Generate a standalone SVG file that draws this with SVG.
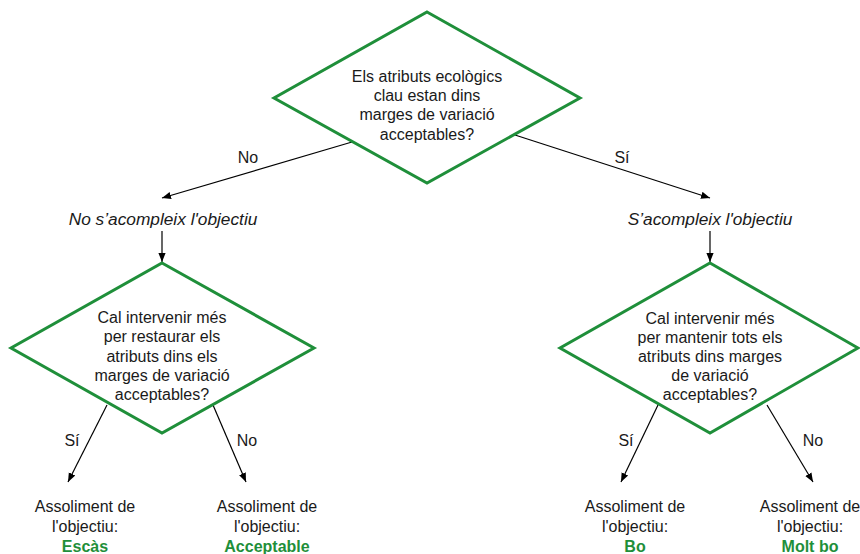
<svg xmlns="http://www.w3.org/2000/svg" width="860" height="554" viewBox="0 0 860 554">
<style>
.d{fill:#fff;stroke:#1f8f3a;stroke-width:3;stroke-linejoin:miter}
.t{font-family:"Liberation Sans",Arial,sans-serif;font-size:16px;fill:#1a1a1a;text-anchor:middle}
.i{font-style:italic;font-size:17.3px}
.g{fill:#1f8f3a;font-weight:bold}
.c{stroke:#000;stroke-width:1.2;fill:none;marker-end:url(#a)}
</style>
<defs>
<marker id="a" viewBox="0 0 10 10" refX="10" refY="5" markerWidth="9" markerHeight="9" markerUnits="userSpaceOnUse" orient="auto">
<path d="M0,1 L10,5 L0,9 Z" fill="#000"/>
</marker>
</defs>
<g id="connectors">
<line class="c" x1="352" y1="142" x2="162" y2="198"/>
<line class="c" x1="515" y1="135" x2="710" y2="198"/>
<line class="c" x1="162" y1="231" x2="162" y2="262"/>
<line class="c" x1="710" y1="231" x2="710" y2="262"/>
<line class="c" x1="107" y1="405" x2="68" y2="482"/>
<line class="c" x1="213" y1="405" x2="246" y2="482"/>
<line class="c" x1="658" y1="405" x2="621" y2="482"/>
<line class="c" x1="767" y1="405" x2="813" y2="482"/>
<text class="t" x="248" y="163">No</text>
<text class="t" x="622" y="163">Sí</text>
<text class="t" x="72" y="446">Sí</text>
<text class="t" x="247" y="446">No</text>
<text class="t" x="626" y="446">Sí</text>
<text class="t" x="813" y="446">No</text>
</g>
<g id="q1">
<polygon class="d" points="427,12 580,98 427,183 274,98"/>
<text class="t" x="427" y="82">Els atributs ecològics</text>
<text class="t" x="427" y="101">clau estan dins</text>
<text class="t" x="427" y="120">marges de variació</text>
<text class="t" x="427" y="140">acceptables?</text>
</g>
<g id="notmet">
<text class="t i" x="163" y="225">No s’acompleix l'objectiu</text>
</g>
<g id="met">
<text class="t i" x="710" y="225">S’acompleix l'objectiu</text>
</g>
<g id="q2">
<polygon class="d" points="162,263 314,348 162,433 11,348"/>
<text class="t" x="162" y="323">Cal intervenir més</text>
<text class="t" x="162" y="342">per restaurar els</text>
<text class="t" x="162" y="362">atributs dins els</text>
<text class="t" x="162" y="381">marges de variació</text>
<text class="t" x="162" y="400">acceptables?</text>
</g>
<g id="q3">
<polygon class="d" points="710,263 858,348 710,433 560,348"/>
<text class="t" x="710" y="324">Cal intervenir més</text>
<text class="t" x="710" y="343">per mantenir tots els</text>
<text class="t" x="710" y="362">atributs dins marges</text>
<text class="t" x="710" y="381">de variació</text>
<text class="t" x="710" y="400">acceptables?</text>
</g>
<g id="r1">
<text class="t" x="85" y="512">Assoliment de</text>
<text class="t" x="85" y="532">l'objectiu:</text>
<text class="t g" x="85" y="552">Escàs</text>
</g>
<g id="r2">
<text class="t" x="267" y="512">Assoliment de</text>
<text class="t" x="267" y="532">l'objectiu:</text>
<text class="t g" x="267" y="552">Acceptable</text>
</g>
<g id="r3">
<text class="t" x="635" y="512">Assoliment de</text>
<text class="t" x="635" y="532">l'objectiu:</text>
<text class="t g" x="635" y="552">Bo</text>
</g>
<g id="r4">
<text class="t" x="810" y="512">Assoliment de</text>
<text class="t" x="810" y="532">l'objectiu:</text>
<text class="t g" x="810" y="552">Molt bo</text>
</g>
</svg>
